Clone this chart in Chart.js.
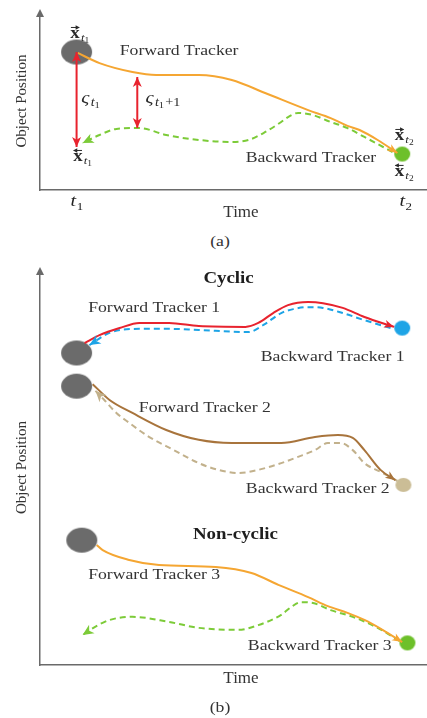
<!DOCTYPE html>
<html><head><meta charset="utf-8">
<script src="https://cdn.jsdelivr.net/npm/chart.js@4"></script>
<style>
html,body{margin:0;padding:0;background:#fff;overflow:hidden;}
#wrap{position:relative;width:427px;height:718px;overflow:hidden;background:#fff;}
canvas{position:absolute;left:0;}
#ca{top:0;} #cb{top:250px;}
.cap{position:absolute;font:15px "Liberation Serif",serif;color:#333;line-height:18px;transform:translate(-50%,-50%) scaleX(1.18);white-space:nowrap;}
</style></head><body>
<div id="wrap">
<canvas id="ca" width="450" height="225"></canvas>
<canvas id="cb" width="450" height="468"></canvas>
<div class="cap" style="left:220px;top:241px">(a)</div>
<div class="cap" style="left:220px;top:707px">(b)</div>
</div>
<script>
// ---------- data: panel (a) ----------
const timeTicks = [9.1, 90.9];
const tickLabels = ['t1', 't2'];
const forwardA = [[9.4,77],[14.8,71.3],[23,66.3],[28.9,64.6],[39.5,64.6],[47.7,61.8],[56,54.5],[66.7,44.9],[72.3,40.4],[76.5,36],[79.5,33.7],[84,28.1],[88.9,20.8]];
const backwardA = [[87.7,21.3],[80.7,29.8],[76.5,34.8],[72.3,38.2],[67.9,42.1],[64.2,43.3],[61.7,41],[60,38.2],[55.6,32],[51.9,28.1],[47.7,27],[39.5,28.1],[31.4,30.9],[24.7,34.8],[19,34.3],[14.8,30.9],[10.6,26.4]];
const gapT1 = [[9.1,77.5],[9.1,24.2]];
const gapT1p1 = [[24.2,63.5],[24.2,34.8]];
const startA = [[9.1,77.5]];
const endA = [[90.1,20.2]];
// ---------- data: panel (b) ----------
const forward1 = [[11.1,81.5],[14.8,83.5],[19.8,85.3],[24.7,86.6],[32.1,86.6],[39.5,85.8],[51.1,85.6],[54.3,86.6],[58,89.1],[61.7,91.1],[66.7,91.9],[70.4,91.6],[75.3,90.4],[80.7,88.1],[88.1,85.6]];
const backward1 = [[87.2,85.3],[80.7,87.3],[75.3,89.1],[70.4,90.4],[66.7,90.6],[63,90.1],[60,89.1],[55.6,86.1],[51.9,84.3],[39.5,84.8],[32.1,85.1],[24.7,85.1],[17.3,84.1],[12.3,81]];
const forward2 = [[13.1,71.1],[17.3,67.1],[23,63.8],[31.4,59.5],[39.5,57],[47.7,56.2],[60,56.2],[68.4,57.7],[74.1,58.2],[77.8,57.5],[80.7,54.4],[84.7,49.4],[88.4,46.8]];
const backward2 = [[88.9,46.6],[84.7,48.9],[80.7,51.1],[77.8,54.4],[74.8,56.2],[71.6,56.2],[68.4,54.4],[64.2,52.7],[60,51.1],[54.3,49.4],[49.4,48.6],[44.4,49.4],[39.5,51.1],[33.3,54.4],[27.2,57.7],[22.2,61.3],[19,63.8],[16,67.1],[13.8,69.4]];
const forward3 = [[14.1,30.4],[15.6,29.1],[22.2,26.6],[29.6,25.3],[43.7,24.8],[52.6,23.3],[59.3,20.3],[66.7,17.2],[71.6,14.9],[76.5,13.2],[80.7,11.4],[85.2,8.9],[90.1,5.8]];
const backward3 = [[89.4,6.1],[84,9.4],[77.8,12.2],[72.3,13.9],[67.9,15.7],[64.9,15.9],[62.5,14.7],[60,12.7],[54.3,10.1],[49.4,8.9],[39.5,9.4],[32.1,10.9],[23,12.2],[17.3,11.4],[13.6,9.6],[10.6,7.6]];
const startsB = [[9.1,79],[9.1,70.6],[10.4,31.6]];
const end1 = [[90.1,85.3]];
const end2 = [[90.4,45.6]];
const end3 = [[91.4,5.6]];

const C = {orange:'#f5a632', green:'#7ccb38', greenDot:'#6dc02a', red:'#e8232e', blue:'#1ea4e6', brown:'#a8743c', tan:'#c2b18c', tanDot:'#cbbd96', gray:'#6b6b6b', axis:'#6a6a6a', text:'#333'};
const SX = 1.18;
const SERIF = '"Liberation Serif", "DejaVu Serif", serif';
Chart.defaults.font.family = SERIF;

function pts(a){ return a.map(p=>({x:p[0], y:p[1]})); }
function ellipseImg(rx, ry, color){
  const c=document.createElement('canvas'); c.width=Math.ceil(rx*2+2); c.height=Math.ceil(ry*2+2);
  const g=c.getContext('2d'); g.fillStyle=color; g.beginPath(); g.ellipse(c.width/2,c.height/2,rx,ry,0,0,Math.PI*2); g.fill(); return c;
}
function lineDs(data,color,opts){
  return Object.assign({data:pts(data), showLine:true, borderColor:color, backgroundColor:color, borderWidth:2, pointRadius:0, tension:0.4, cubicInterpolationMode:'monotone', fill:false, arrow:'end'}, opts||{});
}
function dotDs(data,img){
  return {data:pts(data), showLine:false, pointStyle:img, pointRadius:8, borderWidth:0, backgroundColor:'#000'};
}

function arrowHead(ctx, tx, ty, fx, fy, color, len, half){
  const a=Math.atan2(ty-fy, tx-fx);
  ctx.save(); ctx.translate(tx,ty); ctx.rotate(a);
  ctx.beginPath(); ctx.moveTo(0,0); ctx.lineTo(-len,-half); ctx.lineTo(-len*0.72,0); ctx.lineTo(-len,half); ctx.closePath();
  ctx.fillStyle=color; ctx.fill(); ctx.restore();
}
const arrowPlugin = {
  id:'arrowHeads',
  afterDatasetsDraw(chart){
    const ctx=chart.ctx;
    chart.data.datasets.forEach((ds,i)=>{
      if(!ds.arrow || !ds.showLine) return;
      const el=chart.getDatasetMeta(i).data, n=el.length;
      const len=ds.arrowLen||10, half=ds.arrowHalf||4;
      const p=el[n-1]; let fx=p.cp1x, fy=p.cp1y;
      if(fx===undefined || Math.hypot(p.x-fx,p.y-fy)<1){fx=el[n-2].x; fy=el[n-2].y;}
      arrowHead(ctx,p.x,p.y,fx,fy,ds.borderColor,len,half);
      if(ds.arrow==='both'){
        const q=el[0]; let gx=q.cp2x, gy=q.cp2y;
        if(gx===undefined || Math.hypot(q.x-gx,q.y-gy)<1){gx=el[1].x; gy=el[1].y;}
        arrowHead(ctx,q.x,q.y,gx,gy,ds.borderColor,len,half);
      }
    });
  }
};

function stretchText(ctx,text,x,y,font,color){
  ctx.save(); ctx.translate(x,y); ctx.scale(SX,1); ctx.font=font; ctx.fillStyle=color;
  ctx.textAlign='center'; ctx.textBaseline='middle'; ctx.fillText(text,0,0); ctx.restore();
}
function vecLabel(ctx,cx,cy,dir,sub){
  ctx.save(); ctx.translate(cx,cy); ctx.scale(SX,1);
  const fX='bold 16px '+SERIF, fT='italic 11px '+SERIF, fD='8px '+SERIF;
  ctx.font=fX; const wx=ctx.measureText('x').width;
  ctx.font=fT; const wt=ctx.measureText('t').width;
  ctx.font=fD; const wd=ctx.measureText(sub).width;
  const tot=wx+1+wt+wd, x0=-tot/2, base=3.5;
  ctx.fillStyle='#2a2a2a'; ctx.strokeStyle='#2a2a2a'; ctx.textAlign='left'; ctx.textBaseline='alphabetic';
  ctx.font=fX; ctx.fillText('x',x0,base);
  const ay=base-11; ctx.lineWidth=1; ctx.beginPath(); ctx.moveTo(x0+0.5,ay); ctx.lineTo(x0+wx-0.5,ay); ctx.stroke();
  const hx=dir==='right'? x0+wx : x0, s=dir==='right'?-1:1;
  ctx.beginPath(); ctx.moveTo(hx,ay); ctx.lineTo(hx+s*3.5,ay-2.2); ctx.lineTo(hx+s*3.5,ay+2.2); ctx.closePath(); ctx.fill();
  ctx.font=fT; ctx.fillText('t',x0+wx+1,base+3);
  ctx.font=fD; ctx.fillText(sub,x0+wx+1+wt,base+5);
  ctx.restore();
}
function sigmaLabel(ctx,cx,cy,extra){
  ctx.save(); ctx.translate(cx,cy); ctx.scale(SX,1);
  const fS='italic 17px '+SERIF, fT='italic 12px '+SERIF, fD='9px '+SERIF, fE='12px '+SERIF;
  ctx.font=fS; const ws=ctx.measureText('\u03C2').width;
  ctx.font=fT; const wt=ctx.measureText('t').width;
  ctx.font=fD; const wd=ctx.measureText('1').width;
  ctx.font=fE; const we=extra?ctx.measureText(extra).width:0;
  const tot=ws+1+wt+wd+we+(extra?1:0), x0=-tot/2, base=3;
  ctx.fillStyle='#2a2a2a'; ctx.textAlign='left'; ctx.textBaseline='alphabetic';
  ctx.font=fS; ctx.fillText('\u03C2',x0,base);
  let x=x0+ws+1;
  ctx.font=fT; ctx.fillText('t',x,base+3); x+=wt;
  ctx.font=fD; ctx.fillText('1',x,base+5); x+=wd+1;
  if(extra){ ctx.font=fE; ctx.fillText(extra,x,base+3); }
  ctx.restore();
}
function tickLabel(ctx,cx,top,label){
  const base=label.charAt(0), sub=label.slice(1);
  ctx.save(); ctx.translate(cx,top); ctx.scale(SX,1);
  const fT='italic 17px '+SERIF, fD='11px '+SERIF;
  ctx.font=fT; const wt=ctx.measureText(base).width;
  ctx.font=fD; const wd=ctx.measureText(sub).width;
  const x0=-(wt+wd)/2;
  ctx.fillStyle='#222'; ctx.textAlign='left'; ctx.textBaseline='alphabetic';
  ctx.font=fT; ctx.fillText(base,x0,11);
  ctx.font=fD; ctx.fillText(sub,x0+wt+0.5,14.5);
  ctx.restore();
}
const labelPlugin = {
  id:'labels',
  afterDraw(chart){
    const ctx=chart.ctx, xs=chart.scales.x, ys=chart.scales.y, ca=chart.chartArea;
    ctx.save(); ctx.fillStyle=C.axis; ctx.beginPath();
    ctx.moveTo(ca.left,ca.top-3); ctx.lineTo(ca.left-4,ca.top+5); ctx.lineTo(ca.left+4,ca.top+5); ctx.closePath(); ctx.fill(); ctx.restore();
    const o=chart.options.plugins.labels;
    if(o.ticks) timeTicks.forEach((v,i)=>tickLabel(ctx,xs.getPixelForValue(v),ca.bottom+5,tickLabels[i]));
    (o.items||[]).forEach(it=>{
      const px=xs.getPixelForValue(it.x), py=ys.getPixelForValue(it.y);
      if(it.kind==='text') stretchText(ctx,it.text,px,py,(it.bold?'bold 16px ':'15px ')+SERIF,it.bold?'#1e1e1e':C.text);
      else if(it.kind==='vec') vecLabel(ctx,px,py,it.dir,it.sub);
      else if(it.kind==='sigma') sigmaLabel(ctx,px,py,it.extra);
    });
  }
};

function makeChart(id, datasets, items, o){
  return new Chart(document.getElementById(id), {
    type:'scatter',
    data:{datasets},
    plugins:[arrowPlugin,labelPlugin],
    options:{
      responsive:false, animation:false, events:[],
      layout:{padding:{top:o.top,right:5,left:0,bottom:0}},
      plugins:{legend:{display:false}, tooltip:{enabled:false}, labels:{items, ticks:o.ticks}},
      scales:{
        x:{type:'linear',min:0,max:100,
          grid:{display:false,drawTicks:false}, border:{display:true,color:C.axis,width:1.5},
          ticks:{display:false},
          afterBuildTicks:s=>{ s.ticks=timeTicks.map(v=>({value:v})); },
          afterFit:s=>{ s.height=o.xh; },
          title:{display:true,text:'Time',font:{size:17},color:'#333',padding:{top:0,bottom:o.tb}}},
        y:{type:'linear',min:0,max:100,
          grid:{display:false,drawTicks:false}, border:{display:true,color:C.axis,width:1.5},
          ticks:{display:false},
          afterFit:s=>{ s.width=40; },
          title:{display:true,text:'Object Position',font:{size:15},color:'#333',padding:{top:13,bottom:0}}}
      }
    }
  });
}

const gray = ellipseImg(15.5,12.5,C.gray);
makeChart('ca', [
  lineDs(gapT1, C.red, {arrow:'both', tension:0, cubicInterpolationMode:'default', borderWidth:2, arrowLen:10, arrowHalf:4.5}),
  lineDs(gapT1p1, C.red, {arrow:'both', tension:0, cubicInterpolationMode:'default', borderWidth:2, arrowLen:10, arrowHalf:4.5}),
  lineDs(forwardA, C.orange),
  lineDs(backwardA, C.green, {borderDash:[6,4], arrowLen:11, arrowHalf:5}),
  dotDs(endA, ellipseImg(8,7.5,C.greenDot)),
  dotDs(startA, gray)
], [
  {kind:'text', text:'Forward Tracker', x:34.6, y:78.2},
  {kind:'text', text:'Backward Tracker', x:67.4, y:17.7},
  {kind:'vec', dir:'right', sub:'1', x:9.9, y:87.1},
  {kind:'vec', dir:'left', sub:'1', x:10.6, y:18.0},
  {kind:'vec', dir:'right', sub:'2', x:90.6, y:29.8},
  {kind:'vec', dir:'left', sub:'2', x:90.6, y:9.6},
  {kind:'sigma', extra:'', x:12.6, y:50.6},
  {kind:'sigma', extra:'+1', x:30.6, y:50.6}
], {top:12, xh:35, tb:1.8, ticks:true});

makeChart('cb', [
  lineDs(forward1, C.red),
  lineDs(backward1, C.blue, {borderDash:[6,4], arrowLen:11, arrowHalf:5}),
  lineDs(forward2, C.brown),
  lineDs(backward2, C.tan, {borderDash:[6,4], arrowLen:11, arrowHalf:5}),
  lineDs(forward3, C.orange),
  lineDs(backward3, C.green, {borderDash:[6,4], arrowLen:11, arrowHalf:5}),
  dotDs(end1, ellipseImg(8,7.5,C.blue)),
  dotDs(end2, ellipseImg(8,7,C.tanDot)),
  dotDs(end3, ellipseImg(8,7.5,C.greenDot)),
  dotDs(startsB, gray)
], [
  {kind:'text', text:'Cyclic', bold:true, x:46.9, y:97.7},
  {kind:'text', text:'Forward Tracker 1', x:28.4, y:90.4},
  {kind:'text', text:'Backward Tracker 1', x:72.8, y:78.0},
  {kind:'text', text:'Forward Tracker 2', x:41.0, y:65.1},
  {kind:'text', text:'Backward Tracker 2', x:69.1, y:44.6},
  {kind:'text', text:'Non-cyclic', bold:true, x:48.6, y:32.9},
  {kind:'text', text:'Forward Tracker 3', x:28.4, y:22.8},
  {kind:'text', text:'Backward Tracker 3', x:69.6, y:4.8}
], {top:20, xh:53, tb:28.8, ticks:false});
</script>
</body></html>
